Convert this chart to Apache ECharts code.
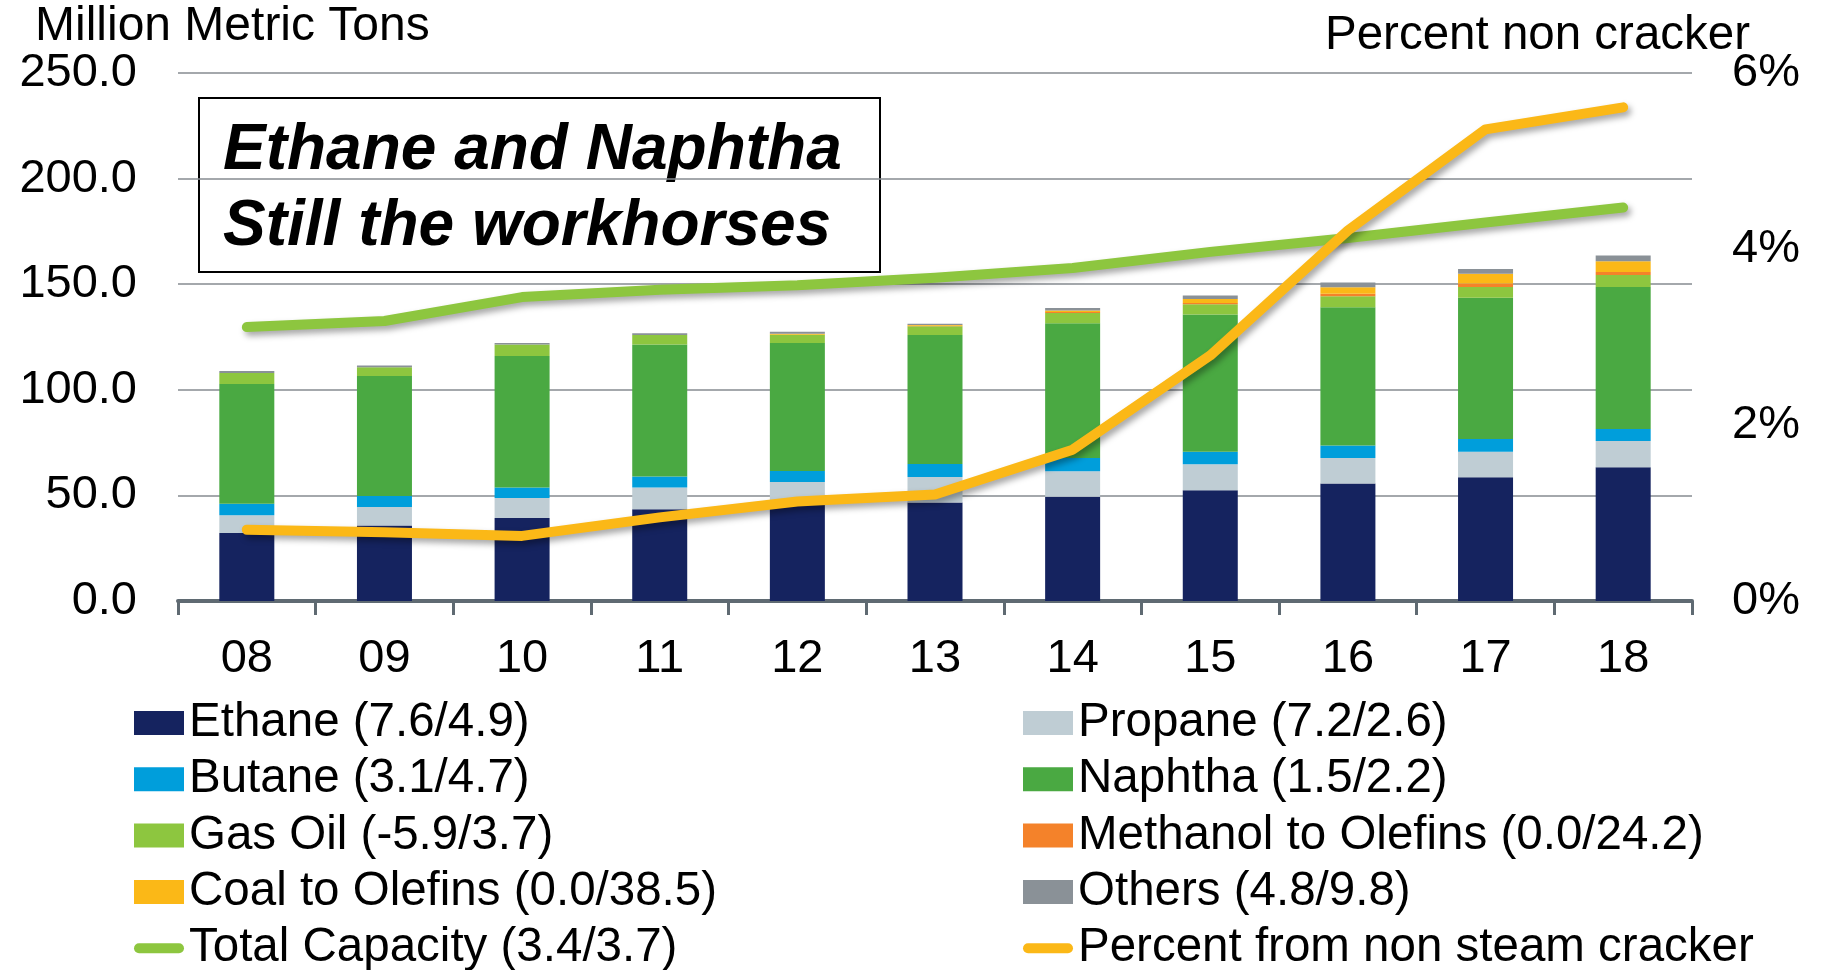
<!DOCTYPE html>
<html>
<head>
<meta charset="utf-8">
<title>Ethane and Naphtha</title>
<script src="https://cdn.jsdelivr.net/npm/echarts@6/dist/echarts.min.js"></script>
<style>
  html, body { margin: 0; padding: 0; background: #fff; }
  #chart { width: 1822px; height: 970px; }
</style>
</head>
<body>
<div id="chart"></div>
<script>
// values (million metric tons, stacked per year)
const years = ["08", "09", "10", "11", "12", "13", "14", "15", "16", "17", "18"];
const ethane = [32.2, 35.7, 39.3, 43.4, 45.8, 46.6, 49.4, 52.4, 55.6, 58.6, 63.3];
const propane = [8.4, 8.8, 9.5, 10.3, 10.5, 12.1, 12.0, 12.3, 12.1, 12.1, 12.4];
const butane = [5.5, 5.2, 4.9, 5.2, 5.3, 6.2, 6.3, 6.0, 5.9, 6.0, 5.7];
const naphtha = [56.7, 56.8, 62.3, 62.6, 60.6, 61.0, 63.8, 64.9, 65.5, 66.9, 67.3];
const gasOil = [5.2, 4.2, 5.4, 4.4, 3.9, 4.2, 4.9, 4.9, 5.2, 5.1, 5.6];
const methanolToOlefins = [0, 0, 0, 0, 0, 0.2, 0.4, 0.6, 1.2, 1.6, 1.5];
const coalToOlefins = [0, 0, 0, 0, 0.4, 0.4, 0.8, 1.9, 3.0, 4.7, 5.1];
const others = [0.9, 0.8, 0.8, 0.9, 1.0, 0.6, 1.1, 1.6, 2.3, 2.2, 2.7];
const totalCapacity = [129.7, 132.6, 143.9, 147.4, 149.5, 153.1, 157.7, 165.3, 171.9, 179.2, 186.3];
const pctNonCracker = [0.81, 0.78, 0.74, 0.95, 1.13, 1.21, 1.72, 2.79, 4.21, 5.36, 5.61];

const leftTicks = [0, 50, 100, 150, 200, 250];
const rightTicks = [0, 2, 4, 6];

const FONT = "'Liberation Sans', Arial, sans-serif";
const lineIcon = "path://M6,0 L54,0 A6,6 0 0 1 54,12 L6,12 A6,6 0 0 1 6,0 Z";

const stackDefs = [
  { name: "Ethane (7.6/4.9)", data: ethane, color: "#15235f" },
  { name: "Propane (7.2/2.6)", data: propane, color: "#bfcdd4" },
  { name: "Butane (3.1/4.7)", data: butane, color: "#009edb" },
  { name: "Naphtha (1.5/2.2)", data: naphtha, color: "#4aa942" },
  { name: "Gas Oil (-5.9/3.7)", data: gasOil, color: "#8dc63f" },
  { name: "Methanol to Olefins (0.0/24.2)", data: methanolToOlefins, color: "#f4822a" },
  { name: "Coal to Olefins (0.0/38.5)", data: coalToOlefins, color: "#fbb817" },
  { name: "Others (4.8/9.8)", data: others, color: "#8a9197" },
];

const lineShadow = {
  shadowColor: "rgba(0,0,0,0.35)",
  shadowBlur: 6,
  shadowOffsetX: 3,
  shadowOffsetY: 4,
};

const chart = echarts.init(document.getElementById("chart"));
const textStyle = { color: "#000", fontSize: 47, fontFamily: FONT };

const legendBase = {
  orient: "vertical",
  top: 699,
  height: 300,
  padding: 0,
  itemWidth: 50,
  itemHeight: 24,
  itemGap: 8.3,
  icon: "rect",
  textStyle: { ...textStyle, fontSize: 47.5 },
  selectedMode: false,
};

chart.setOption({
  animation: false,
  textStyle: { fontFamily: FONT },
  grid: { left: 178, right: 130, top: 73, bottom: 369, containLabel: false },
  legend: [
    {
      ...legendBase,
      left: 134,
      data: [
        "Ethane (7.6/4.9)",
        "Butane (3.1/4.7)",
        "Gas Oil (-5.9/3.7)",
        "Coal to Olefins (0.0/38.5)",
        { name: "Total Capacity (3.4/3.7)", icon: lineIcon },
      ],
    },
    {
      ...legendBase,
      left: 1023,
      data: [
        "Propane (7.2/2.6)",
        "Naphtha (1.5/2.2)",
        "Methanol to Olefins (0.0/24.2)",
        "Others (4.8/9.8)",
        { name: "Percent from non steam cracker", icon: lineIcon },
      ],
    },
  ],
  graphic: [
    {
      type: "text",
      left: 35,
      top: 3,
      style: { text: "Million Metric Tons", fill: "#000", font: "48px " + FONT },
    },
    {
      type: "text",
      left: 1325,
      top: 12,
      style: { text: "Percent non cracker", fill: "#000", font: "47.5px " + FONT },
    },
    {
      type: "rect",
      shape: { x: 199, y: 98, width: 681, height: 174 },
      style: { fill: "none", stroke: "#000", lineWidth: 2 },
    },
    {
      type: "text",
      x: 223,
      y: 151,
      style: {
        text: "Ethane and Naphtha",
        fill: "#000",
        font: "italic bold 64px " + FONT,
        verticalAlign: "middle",
      },
    },
    {
      type: "text",
      x: 223,
      y: 227,
      style: {
        text: "Still the workhorses",
        fill: "#000",
        font: "italic bold 64px " + FONT,
        verticalAlign: "middle",
      },
    },
  ],
  xAxis: {
    type: "category",
    data: years,
    boundaryGap: true,
    axisLine: { lineStyle: { color: "#5f6a72", width: 4 } },
    axisTick: { show: true, length: 14, lineStyle: { color: "#5f6a72", width: 3 } },
    axisLabel: { ...textStyle, margin: 35 },
  },
  yAxis: [
    {
      type: "value",
      min: leftTicks[0],
      max: leftTicks[leftTicks.length - 1],
      interval: leftTicks[1] - leftTicks[0],
      axisLine: { show: false },
      axisTick: { show: false },
      splitLine: { lineStyle: { color: "#868b90", width: 1.5 } },
      axisLabel: { ...textStyle, margin: 41, formatter: (v) => v.toFixed(1) },
    },
    {
      type: "value",
      min: rightTicks[0],
      max: rightTicks[rightTicks.length - 1],
      interval: rightTicks[1] - rightTicks[0],
      axisLine: { show: false },
      axisTick: { show: false },
      splitLine: { show: false },
      axisLabel: { ...textStyle, margin: 40, formatter: (v) => v + "%" },
    },
  ],
  series: [
    ...stackDefs.map((s) => ({
      name: s.name,
      type: "bar",
      stack: "capacity",
      barWidth: 55,
      data: s.data,
      itemStyle: { color: s.color },
    })),
    {
      name: "Total Capacity (3.4/3.7)",
      type: "line",
      data: totalCapacity,
      symbol: "none",
      itemStyle: { color: "#8dc63f" },
      lineStyle: { color: "#8dc63f", width: 10, cap: "round", join: "round", ...lineShadow },
      z: 3,
    },
    {
      name: "Percent from non steam cracker",
      type: "line",
      yAxisIndex: 1,
      data: pctNonCracker,
      symbol: "none",
      itemStyle: { color: "#fbb817" },
      lineStyle: { color: "#fbb817", width: 10, cap: "round", join: "round", ...lineShadow },
      z: 4,
    },
  ],
});
</script>
</body>
</html>
